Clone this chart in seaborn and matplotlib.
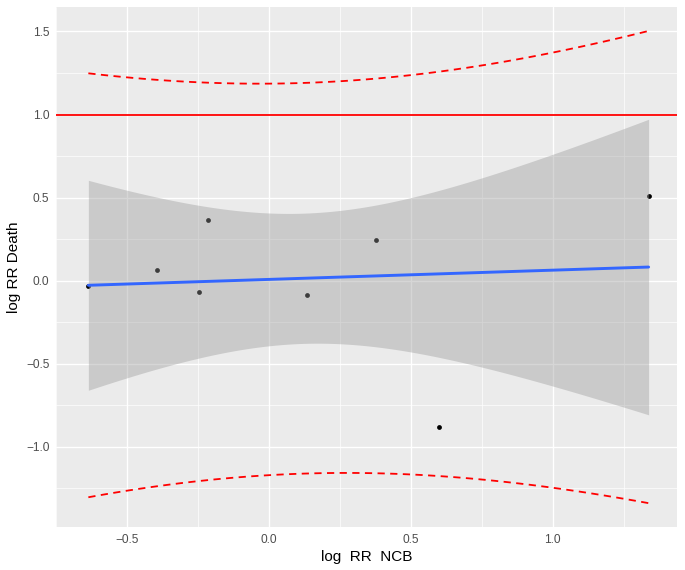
import numpy as np
import pandas as pd
import matplotlib
matplotlib.use('Agg')
import matplotlib.pyplot as plt
import seaborn as sns

# values
x_ncb = [-0.636, -0.395, -0.245, -0.213, 0.136, 0.377, 0.598, 1.338]
y_death = [-0.030, 0.062, -0.070, 0.363, -0.088, 0.247, -0.878, 0.510]
ref_line = 1.0
x_ticks = [-0.5, 0.0, 0.5, 1.0]
y_ticks = [-1.0, -0.5, 0.0, 0.5, 1.0, 1.5]

df = pd.DataFrame({'log_RR_NCB': x_ncb, 'log_RR_Death': y_death})

# linear fit with 95% confidence and prediction intervals (like lm in R)
x = df['log_RR_NCB'].to_numpy()
y = df['log_RR_Death'].to_numpy()
n = len(x)
slope, intercept = np.polyfit(x, y, 1)
resid = y - (intercept + slope * x)
s = np.sqrt(np.sum(resid ** 2) / (n - 2))
t_crit = 2.4469  # t(0.975, df=6)
sxx = np.sum((x - x.mean()) ** 2)
grid = np.linspace(x.min(), x.max(), 100)
fit = intercept + slope * grid
se_fit = s * np.sqrt(1 / n + (grid - x.mean()) ** 2 / sxx)
se_pred = s * np.sqrt(1 + 1 / n + (grid - x.mean()) ** 2 / sxx)
band = pd.DataFrame({
    'x': grid, 'fit': fit,
    'ci_lo': fit - t_crit * se_fit, 'ci_hi': fit + t_crit * se_fit,
    'pi_lo': fit - t_crit * se_pred, 'pi_hi': fit + t_crit * se_pred,
})

sns.set_theme(style='darkgrid', rc={
    'axes.facecolor': '#EBEBEB',
    'grid.color': 'white',
    'axes.edgecolor': 'white',
})
plt.rcParams['font.family'] = ['Liberation Sans', 'DejaVu Sans']

fig = plt.figure(figsize=(6.85, 5.7), dpi=100)
ax = fig.add_axes([56 / 685, 1 - 527 / 570, (677 - 56) / 685, (527 - 7) / 570])

sns.scatterplot(data=df, x='log_RR_NCB', y='log_RR_Death', color='black',
                s=12, linewidth=0, ax=ax, zorder=3)
ax.fill_between(band['x'], band['ci_lo'], band['ci_hi'], color='#999999',
                alpha=0.4, linewidth=0, zorder=4)
sns.lineplot(data=band, x='x', y='fit', color='#3366FF', linewidth=2.1,
             ax=ax, zorder=5)
ax.axhline(ref_line, color='#FF0000', linewidth=1.3, zorder=5)
for col in ['pi_lo', 'pi_hi']:
    sns.lineplot(data=band, x='x', y=col, color='#FF0000', linewidth=1.3,
                 dashes=False, ax=ax, zorder=5).lines[-1].set_dashes((4, 3))

ax.set_xlim(-0.727, 1.438)
ax.set_ylim(-1.482, 1.647)
ax.set_xticks(x_ticks)
ax.set_xticklabels(['\u22120.5', '0.0', '0.5', '1.0'])
ax.set_yticks(y_ticks)
ax.set_yticklabels(['\u22121.0', '\u22120.5', '0.0', '0.5', '1.0', '1.5'])
ax.set_xticks([-0.75, -0.25, 0.25, 0.75, 1.25], minor=True)
ax.set_yticks([-1.25, -0.75, -0.25, 0.25, 0.75, 1.25], minor=True)
ax.grid(which='major', color='white', linewidth=1.0)
ax.grid(which='minor', color='white', linewidth=0.5)
ax.tick_params(which='major', length=2.7, width=0.8, color='#333333',
               labelsize=8.6, labelcolor='#4D4D4D', pad=2)
ax.tick_params(which='minor', length=0)
for sp in ax.spines.values():
    sp.set_visible(False)

ax.set_xlabel('log  RR  NCB', fontsize=11, color='black', labelpad=3)
ax.set_ylabel('log RR Death', fontsize=11, color='black', labelpad=4)

fig.savefig('out.png', dpi=100)
